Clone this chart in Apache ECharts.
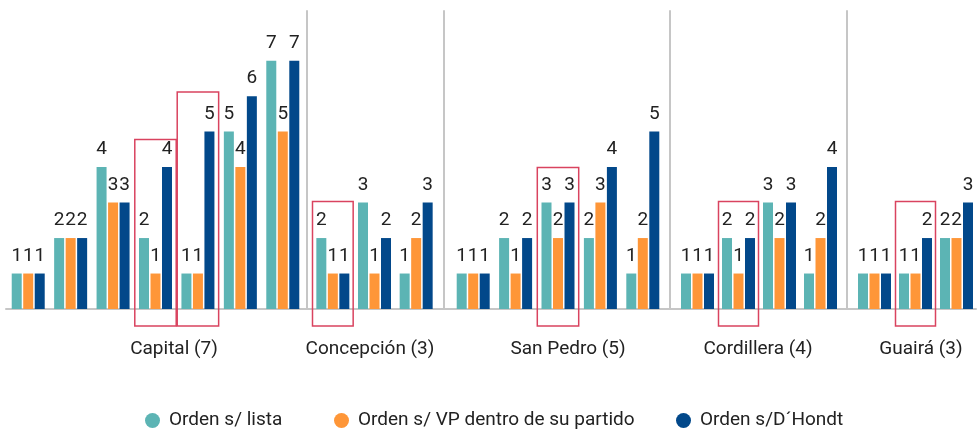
<!DOCTYPE html>
<html>
<head>
<meta charset="utf-8">
<title>Orden de candidatos por departamento</title>
<script src="https://cdn.jsdelivr.net/npm/echarts@6/dist/echarts.min.js"></script>
<style>
  html, body { margin: 0; padding: 0; background: #fff; }
  #chart { width: 980px; height: 432px; }
</style>
</head>
<body>
<div id="chart"></div>
<script>
let departamentos = ['Capital (7)', 'Concepción (3)', 'San Pedro (5)', 'Cordillera (4)', 'Guairá (3)']
let seriesNames = ['Orden s/ lista', 'Orden s/ VP dentro de su partido', 'Orden s/D´Hondt']
let ordenLista = [[1, 2, 4, 2, 1, 5, 7], [2, 3, 1], [1, 2, 3, 2, 1], [1, 2, 3, 1], [1, 1, 2]]
let ordenVP = [[1, 2, 3, 1, 1, 4, 5], [1, 1, 2], [1, 1, 2, 3, 2], [1, 1, 2, 2], [1, 1, 2]]
let ordenDHondt = [[1, 2, 3, 4, 5, 6, 7], [1, 2, 3], [1, 2, 3, 4, 5], [1, 2, 3, 4], [1, 2, 3]]
// grupos marcados en rojo: [departamento, posicion, alto del recuadro]
let marcados = [[0, 3, 4.78], [0, 4, 6.12], [1, 0, 3.03], [2, 2, 3.99], [3, 1, 3.03], [4, 1, 3.03]]

// layout
let colors = ['#5cb4b4', '#fe9638', '#02488a']
let gridLeft = [7, 312, 452, 677, 854]
let gridWidth = [297, 125, 212, 164, 123]
let sepOffset = [0, 5, 8, 7, 7]
let labelX = [174, 370, 568, 758, 921]
let legendLeft = [140, 329, 671]
let plotTop = 11
let plotHeight = 298
let yMax = 8.4
let font = 'Roboto'
let fontSize = 19

let grids = []
let xAxes = []
let yAxes = []
let series = []
departamentos.forEach((dep, i) => {
  grids.push({left: gridLeft[i], top: plotTop, width: gridWidth[i], height: plotHeight})
  xAxes.push({
    type: 'category',
    gridIndex: i,
    data: ordenDHondt[i].map((v, k) => dep + ' ' + (k + 1)),
    axisLine: {show: false},
    axisTick: {show: false},
    axisLabel: {show: false}
  })
  // el eje y de cada departamento hace de linea separadora
  yAxes.push({
    type: 'value',
    gridIndex: i,
    min: 0,
    max: yMax,
    offset: sepOffset[i],
    axisLine: {show: i > 0, lineStyle: {color: '#c6c6c6', width: 2}},
    axisTick: {show: false},
    axisLabel: {show: false},
    splitLine: {show: false}
  })
  ;[ordenLista, ordenVP, ordenDHondt].forEach((arr, s) => {
    series.push({
      name: seriesNames[s],
      type: 'bar',
      xAxisIndex: i,
      yAxisIndex: i,
      data: arr[i],
      barWidth: 10,
      barGap: '15%',
      itemStyle: {color: colors[s]},
      label: {
        show: true,
        position: 'top',
        distance: 8,
        color: '#222',
        fontSize: fontSize,
        fontFamily: font
      }
    })
  })
})

// grid extra solo para la linea base de ancho completo
grids.push({left: 6, top: plotTop, width: 970, height: plotHeight})
xAxes.push({
  type: 'value', gridIndex: 5, min: 0, max: 1,
  axisLine: {show: true, lineStyle: {color: '#c6c6c6', width: 2}},
  axisTick: {show: false}, axisLabel: {show: false}, splitLine: {show: false}
})
yAxes.push({type: 'value', gridIndex: 5, min: 0, max: 1, show: false})

let textos = departamentos.map((dep, i) => ({
  type: 'text',
  x: labelX[i],
  y: 349,
  style: {text: dep, fill: '#222', font: fontSize + 'px ' + font, align: 'center', verticalAlign: 'middle'}
}))

let chart = echarts.init(document.getElementById('chart'))
chart.setOption({
  animation: false,
  textStyle: {fontFamily: font},
  grid: grids,
  xAxis: xAxes,
  yAxis: yAxes,
  legend: seriesNames.map((name, s) => ({
    data: [name],
    left: legendLeft[s],
    top: 406,
    icon: 'circle',
    itemWidth: 15,
    itemHeight: 15,
    textStyle: {fontSize: fontSize, color: '#222', fontFamily: font, padding: [0, 0, 0, 4]}
  })),
  series: series,
  graphic: textos
})

// recuadros rojos sobre los grupos marcados
let recuadros = marcados.map(([d, k, alto]) => {
  let band = gridWidth[d] / ordenDHondt[d].length
  let arriba = chart.convertToPixel({gridIndex: d}, [k, alto])
  let abajo = chart.convertToPixel({gridIndex: d}, [k, -0.48])
  return {
    type: 'rect',
    z: 100,
    shape: {x: arriba[0] - band / 2 + 0.5, y: arriba[1], width: band - 1, height: abajo[1] - arriba[1]},
    style: {fill: 'none', stroke: '#d9435f', lineWidth: 1.5}
  }
})
chart.setOption({graphic: textos.concat(recuadros)})
</script>
</body>
</html>
